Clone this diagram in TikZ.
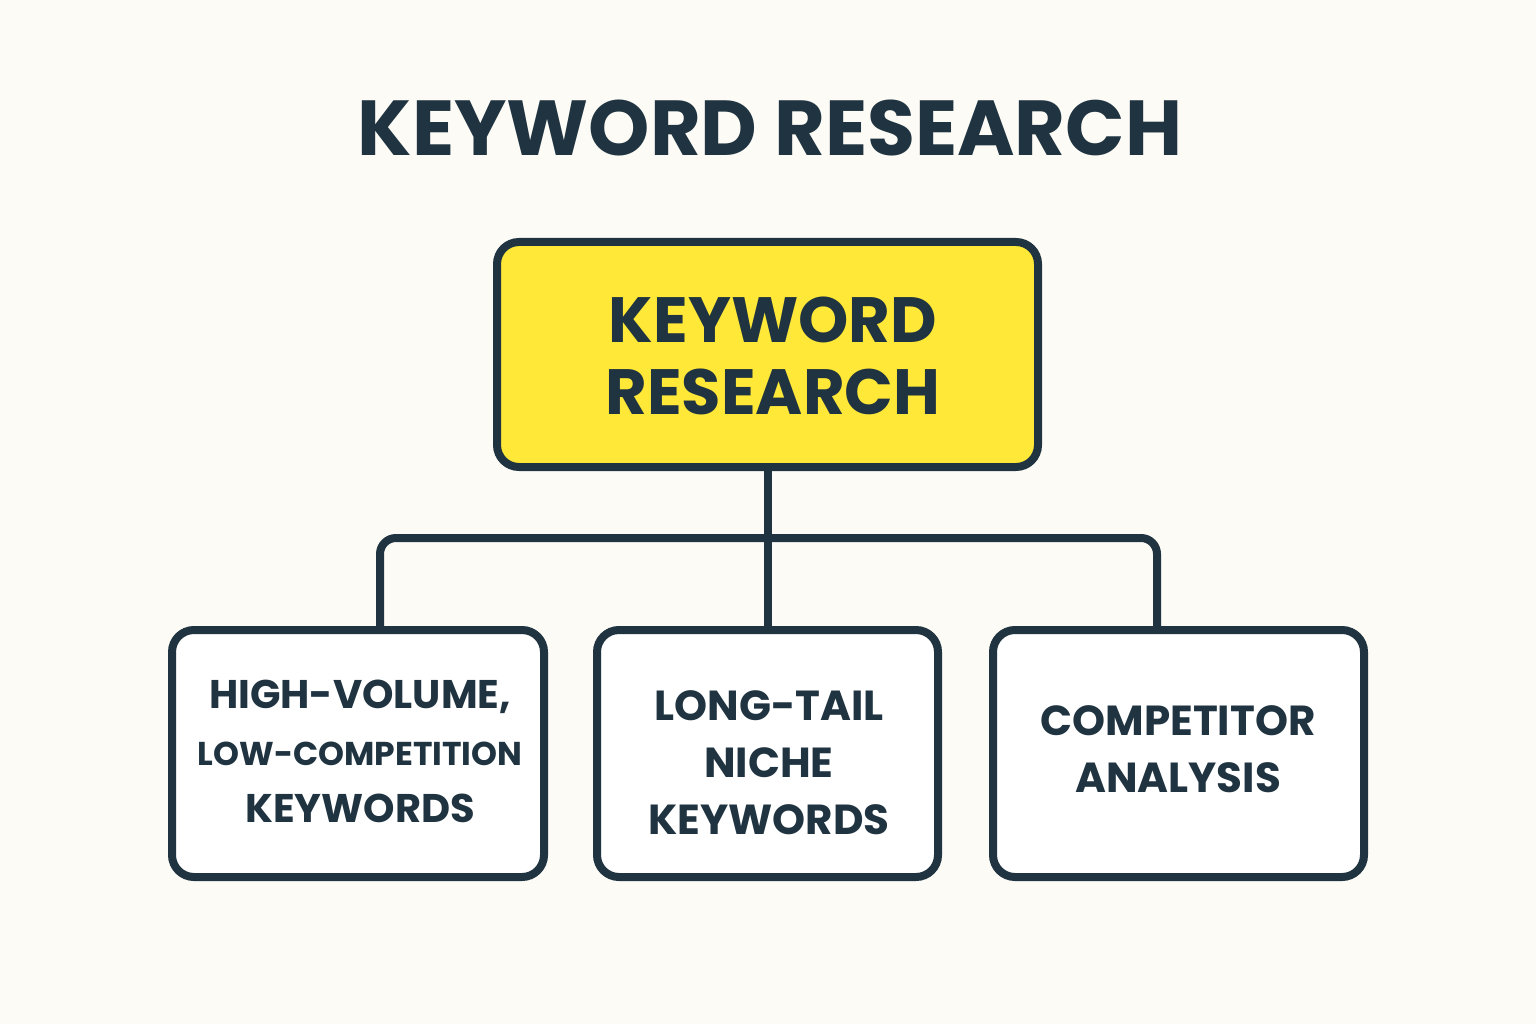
\documentclass[tikz,border=0pt]{standalone}
\usepackage{fontspec}
\setmainfont{Poppins}
\definecolor{bg}{HTML}{FDFBF5}
\definecolor{ink}{HTML}{1F3340}
\definecolor{yel}{HTML}{FFE838}
\begin{document}
\begin{tikzpicture}[x=1pt,y=-1pt,
  box/.style={draw=ink,line width=8pt,rounded corners=22pt,fill=white,inner sep=0pt},
  lbl/.style={text=ink,font=\bfseries,align=center},
  conn/.style={draw=ink,line width=8pt,rounded corners=16pt}]
\fill[bg] (0,0) rectangle (1536,1024);
\useasboundingbox (0,0) rectangle (1536,1024);
\node[lbl,font=\fontsize{78}{80}\selectfont\bfseries] (title) at (770,128) {KEYWORD RESEARCH};
\node[box,fill=yel,minimum width=541pt,minimum height=225pt] (top) at (767.5,354.5) {};
\node[lbl,font=\fontsize{64}{72}\selectfont\bfseries] (toptext) at (773,356) {KEYWORD\\RESEARCH};
\node[box,minimum width=372pt,minimum height=247pt] (b1) at (358,753.5) {};
\node[box,minimum width=341pt,minimum height=247pt] (b2) at (767.5,753.5) {};
\node[box,minimum width=371pt,minimum height=247pt] (b3) at (1178.5,753.5) {};
\node[lbl,font=\fontsize{40}{57}\selectfont\bfseries] (t1) at (360,751) {HIGH-VOLUME,\\{\fontsize{33}{57}\selectfont LOW-COMPETITION}\\KEYWORDS};
\node[lbl,font=\fontsize{42}{57}\selectfont\bfseries] (t2) at (769,763) {LONG-TAIL\\NICHE\\KEYWORDS};
\node[lbl,font=\fontsize{42}{57}\selectfont\bfseries] (t3) at (1178,749) {COMPETITOR\\ANALYSIS};
\coordinate (j) at (767.5,538);
\begin{scope}[on background layer/.style={}]
\draw[conn] (top.south) -- (b2.north);
\draw[conn] (b1.north -| 380,0) |- (j) -| (b3.north -| 1157,0);
\end{scope}
\end{tikzpicture}
\end{document}
